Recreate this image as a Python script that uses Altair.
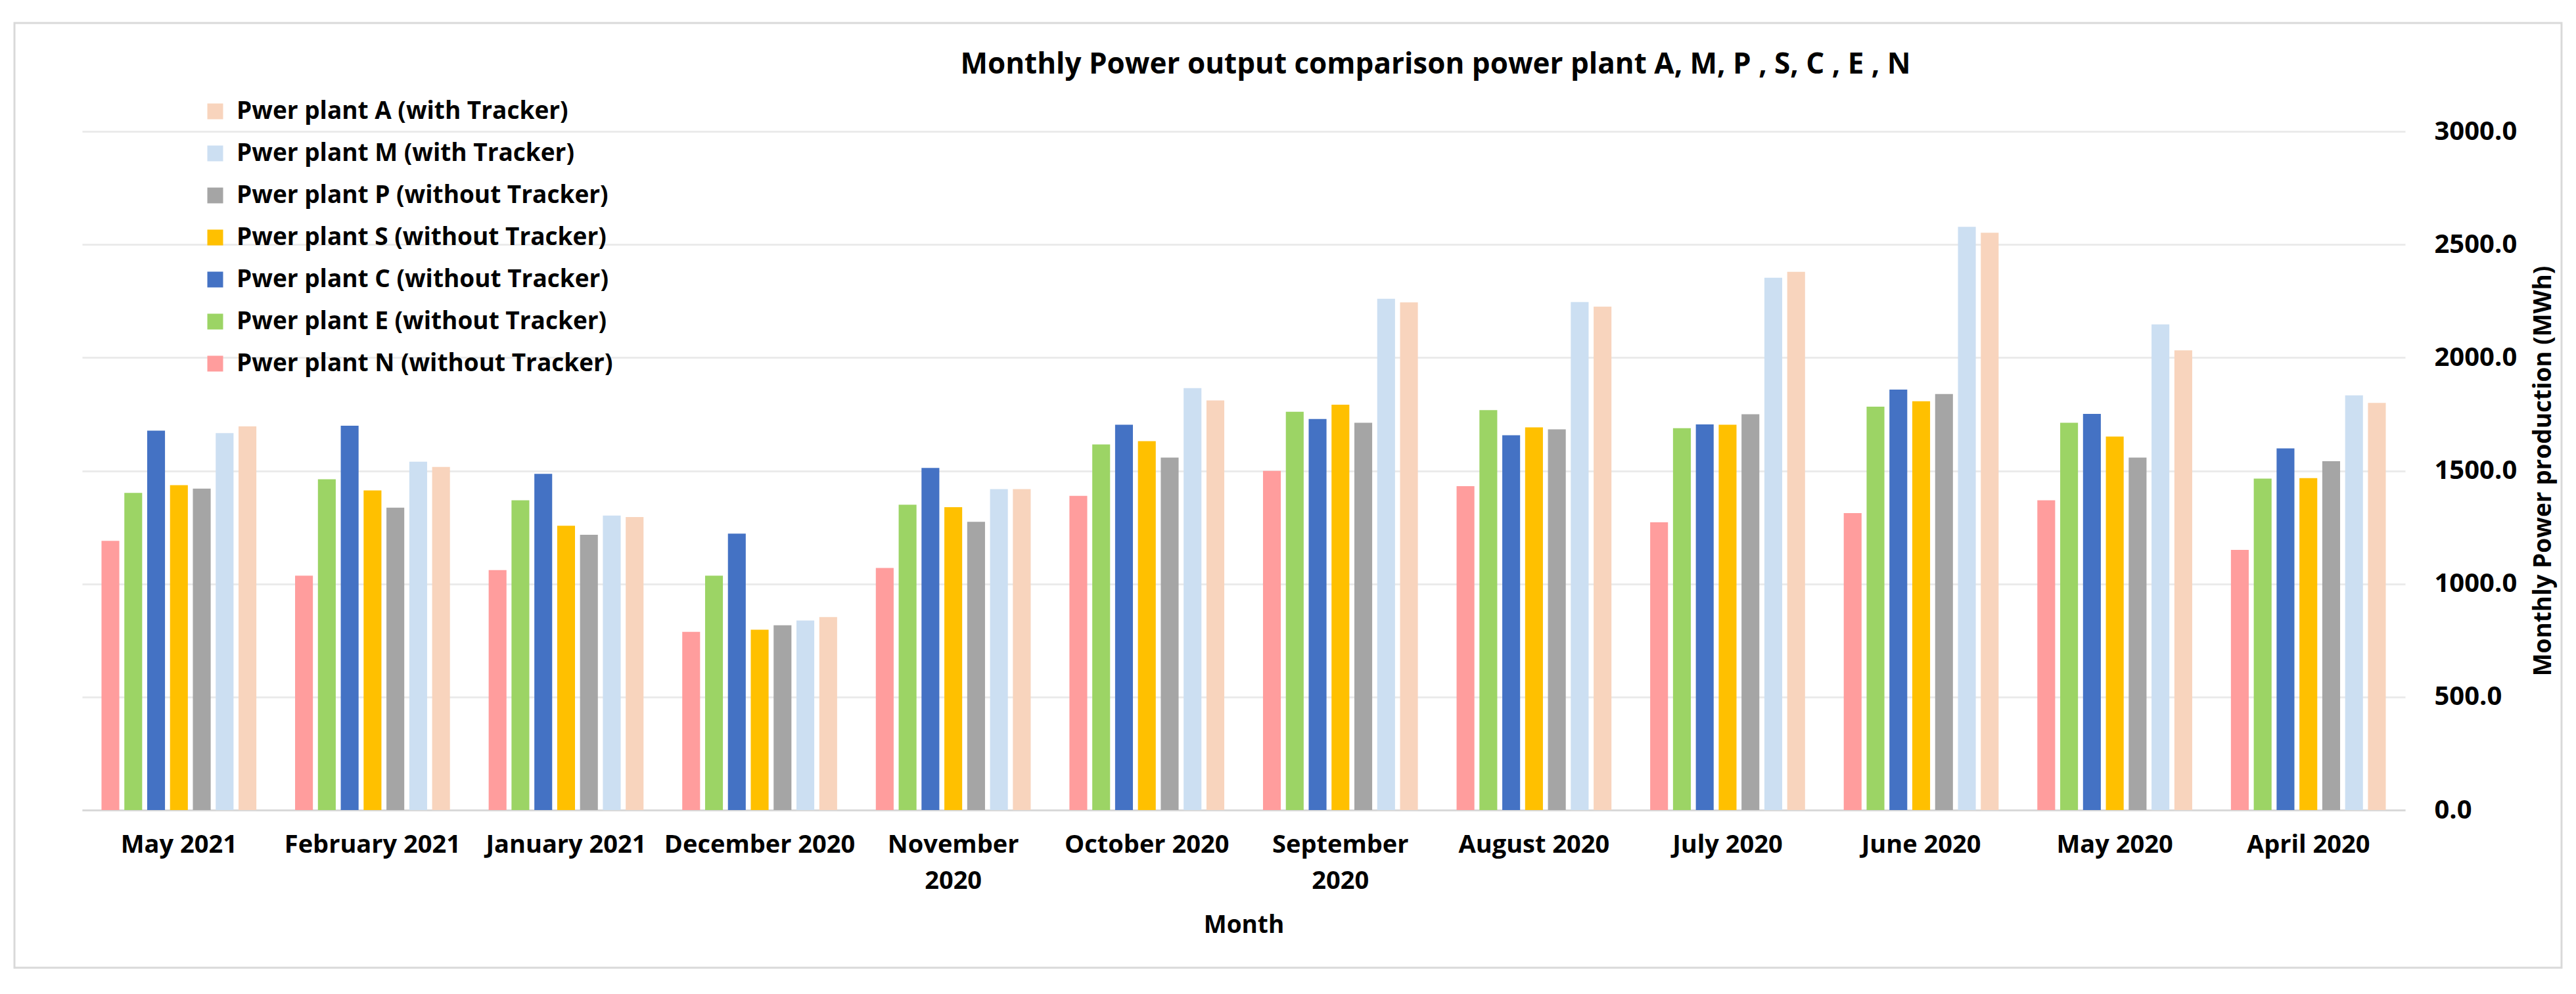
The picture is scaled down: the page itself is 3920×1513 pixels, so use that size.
import altair as alt
import pandas as pd

months = ["May 2021", "February 2021", "January 2021", "December 2020",
          "November 2020", "October 2020", "September 2020", "August 2020",
          "July 2020", "June 2020", "May 2020", "April 2020"]

plant_N = [1190, 1036, 1061, 788, 1070, 1389, 1499, 1432, 1272, 1313, 1369, 1150]
plant_E = [1402, 1462, 1369, 1036, 1350, 1616, 1761, 1768, 1688, 1783, 1712, 1465]
plant_C = [1677, 1699, 1486, 1222, 1512, 1703, 1729, 1657, 1705, 1859, 1751, 1599]
plant_S = [1436, 1413, 1257, 797, 1339, 1631, 1792, 1692, 1703, 1807, 1651, 1467]
plant_P = [1421, 1337, 1217, 817, 1274, 1558, 1712, 1683, 1750, 1839, 1558, 1542]
plant_M = [1666, 1540, 1302, 838, 1419, 1865, 2260, 2246, 2353, 2578, 2147, 1833]
plant_A = [1696, 1517, 1295, 853, 1419, 1811, 2244, 2225, 2379, 2552, 2032, 1800]

names = {
    "A": "Pwer plant A (with Tracker)",
    "M": "Pwer plant M (with Tracker)",
    "P": "Pwer plant P (without Tracker)",
    "S": "Pwer plant S (without Tracker)",
    "C": "Pwer plant C (without Tracker)",
    "E": "Pwer plant E (without Tracker)",
    "N": "Pwer plant N (without Tracker)",
}
series = {"N": plant_N, "E": plant_E, "C": plant_C, "S": plant_S,
          "P": plant_P, "M": plant_M, "A": plant_A}
colors = {"A": "#F8D4BD", "M": "#CCDFF2", "P": "#A5A5A5", "S": "#FFC000",
          "C": "#4472C4", "E": "#9CD465", "N": "#FF9D9D"}

bar_order = [names[k] for k in ["N", "E", "C", "S", "P", "M", "A"]]
legend_order = [names[k] for k in ["A", "M", "P", "S", "C", "E", "N"]]
legend_colors = [colors[k] for k in ["A", "M", "P", "S", "C", "E", "N"]]

rows = []
for k, vals in series.items():
    for m, v in zip(months, vals):
        rows.append({"Month": m, "Plant": names[k], "Value": v})
df = pd.DataFrame(rows)

FONT = "Open Sans"

bars = alt.Chart(df).mark_bar().encode(
    x=alt.X("Month:N", sort=months,
            scale=alt.Scale(paddingInner=0.2, paddingOuter=0.1),
            axis=alt.Axis(title="Month", labelAngle=0, labelLimit=600,
                          labelExpr="indexof(['November 2020','September 2020'], datum.label) >= 0 ? split(datum.label, ' ') : datum.label",
                          labelFont=FONT, labelFontSize=38, labelFontWeight="bold",
                          labelColor="#000000", labelPadding=34, labelLineHeight=55,
                          ticks=False, domain=True, domainColor="#D9D9D9", domainWidth=3,
                          titleFont=FONT, titleFontSize=37, titleFontWeight="bold",
                          titleColor="#000000", titlePadding=30)),
    xOffset=alt.XOffset("Plant:N", sort=bar_order,
                        scale=alt.Scale(domain=bar_order, paddingInner=0.22, paddingOuter=0)),
    y=alt.Y("Value:Q", scale=alt.Scale(domain=[0, 3000]),
            axis=alt.Axis(orient="right", values=[0, 500, 1000, 1500, 2000, 2500, 3000],
                          format=".1f", grid=True, gridColor="#EBEBEB", gridWidth=3,
                          ticks=False, domain=False,
                          labelFont=FONT, labelFontSize=40, labelFontWeight="bold",
                          labelColor="#000000", labelPadding=44,
                          title="Monthly Power production (MWh)", titleAngle=270,
                          titleFont=FONT, titleFontSize=37, titleFontWeight="bold",
                          titleColor="#000000", titlePadding=60)),
    color=alt.Color("Plant:N",
                    scale=alt.Scale(domain=legend_order, range=legend_colors),
                    legend=alt.Legend(orient="none", legendX=184, legendY=-49,
                                      title=None, symbolType="square", symbolSize=576,
                                      symbolStrokeWidth=0, labelFont=FONT,
                                      labelFontSize=37, labelFontWeight="bold",
                                      labelColor="#000000", rowPadding=26,
                                      labelOffset=14, labelLimit=900)),
)

frame = alt.Chart(alt.Data(values=[{"a": 1}])).mark_rect(
    filled=False, stroke="#D9D9D9", strokeWidth=3
).encode(x=alt.value(-103), x2=alt.value(3773), y=alt.value(-165), y2=alt.value(1273))

chart = alt.layer(frame, bars).properties(
    width=3535, height=1033,
    title=alt.TitleParams(
        text="Monthly Power output comparison power plant  A, M, P , S, C  , E , N",
        font=FONT, fontSize=44, fontWeight="bold", color="#000000",
        anchor="middle", frame="group", dx=292, offset=-87),
    padding={"left": 12, "top": 25, "right": 5, "bottom": 5},
    background="#FFFFFF",
).configure_view(strokeWidth=0)

chart.save("out.html", embed_options={"renderer": "svg", "actions": False})
